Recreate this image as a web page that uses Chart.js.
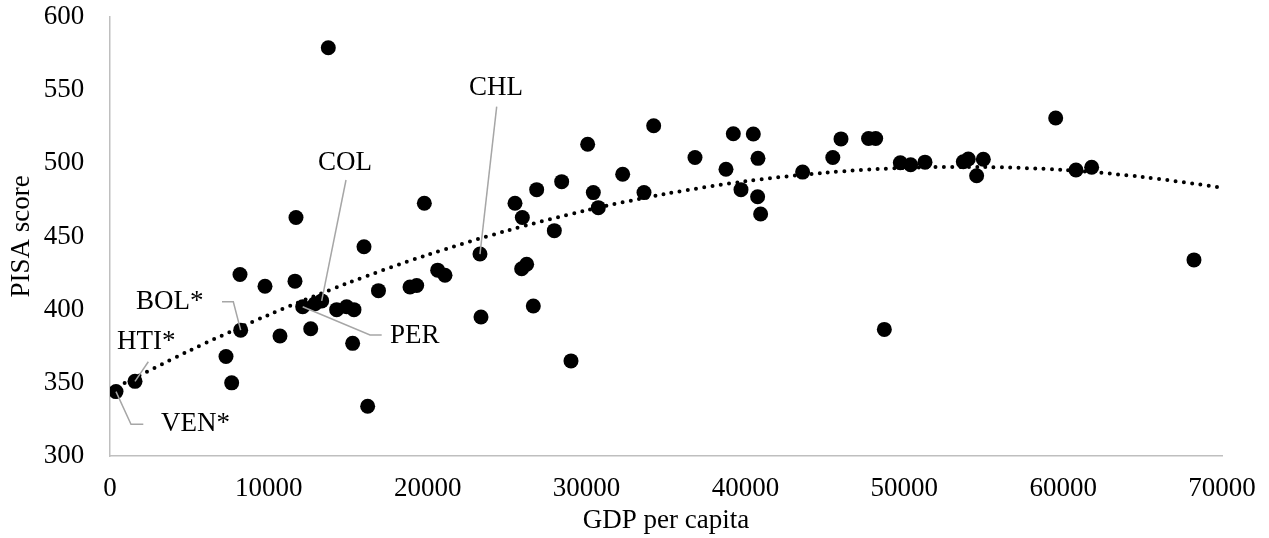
<!DOCTYPE html>
<html><head><meta charset="utf-8">
<script src="https://cdn.jsdelivr.net/npm/chart.js@4/dist/chart.umd.min.js"></script>
<style>html,body{margin:0;padding:0;background:#fff;}#wrap{width:1269px;height:538px;position:relative;}</style>
</head><body><div id="wrap"><canvas id="c"></canvas></div>
<script>
// GDP per capita (x) and PISA score (y)
const gdp = [378, 1574, 7302, 7659, 8183, 8226, 9757, 10700, 11645, 11708,
  12130, 12635, 12905, 13325, 13742, 14268, 14897, 15359, 15275, 15989,
  16220, 16900, 18885, 19306, 19787, 20628, 21088, 23290, 23354, 25494,
  25956, 25914, 26229, 26647, 26859, 27970, 28433, 29019, 30069, 30425,
  30740, 32273, 33615, 34224, 36825, 38776, 39237, 39721, 40496, 40790,
  40768, 40957, 43600, 45500, 46016, 47750, 48200, 48744, 49750, 50400,
  51303, 53716, 54031, 54975, 54555, 59531, 60808, 61795, 68236];
const pisa = [344, 351, 368, 350, 424, 386, 416, 382, 419.5, 463,
  402, 387, 404, 406, 579, 400, 402, 400, 377, 443,
  334, 413, 415.5, 416.5, 472.7, 427, 423.5, 438, 395, 472.7,
  463, 428, 431, 402.5, 482, 454, 487.5, 365, 513, 480,
  469.7, 492.5, 480, 525.7, 504, 496, 520.2, 482, 520, 503.4,
  477.2, 465.4, 494, 504, 516.7, 517, 517, 386.5, 500.4, 499,
  500.8, 501.1, 503, 502.8, 491.5, 531, 495.4, 497.3, 434];
// polynomial trendline, values
const trendX = [0, 5000, 10000, 15000, 20000, 25000, 30000, 35000, 40000, 45000, 50000, 55000, 60000, 65000, 70000];
const trendY = [344.8, 372, 396.5, 418.3, 437.5, 454, 467.9, 479.2, 487.7, 493.6, 496.9, 497.5, 495.5, 490.7, 483.4];
const xTicks = [0, 10000, 20000, 30000, 40000, 50000, 60000, 70000];
const yTicks = [300, 350, 400, 450, 500, 550, 600];
const labelTexts = ['VEN*', 'HTI*', 'BOL*', 'PER', 'COL', 'CHL'];
const labelPoints = [0, 1, 5, 10, 13, 27];

// label placement (data coordinates) and leader-line routes
const labelPlacement = [
  {tx: 3210, ty: 321.7, path: [[1322, 321.7], [2096, 321.7]]},
  {tx: 441, ty: 378.1, path: [[2411, 364.4]]},
  {tx: 1637, ty: 405.4, path: [[7762, 405.4], [7050, 405.4]]},
  {tx: 17626, ty: 382.2, path: [[16367, 382.7], [17103, 382.7]]},
  {tx: 13093, ty: 500, path: [[14856, 488.6]]},
  {tx: 22598, ty: 551.3, path: [[24342, 538.7]]}
];

Chart.defaults.font.family = '"Liberation Serif", "Times New Roman", serif';
Chart.defaults.color = '#000';

const leaderPlugin = {
  id: 'leaders',
  afterDatasetsDraw(chart) {
    const {ctx, scales: {x, y}} = chart;
    ctx.save();
    labelTexts.forEach((txt, n) => {
      const i = labelPoints[n], pl = labelPlacement[n];
      ctx.beginPath();
      ctx.strokeStyle = '#a6a6a6';
      ctx.lineWidth = 1.5;
      ctx.moveTo(x.getPixelForValue(gdp[i]), y.getPixelForValue(pisa[i]));
      pl.path.forEach(([vx, vy]) => ctx.lineTo(x.getPixelForValue(vx), y.getPixelForValue(vy)));
      ctx.stroke();
      ctx.fillStyle = '#000';
      ctx.font = '27px "Liberation Serif"';
      ctx.textBaseline = 'middle';
      ctx.textAlign = 'left';
      ctx.fillText(txt, x.getPixelForValue(pl.tx), y.getPixelForValue(pl.ty));
    });
    ctx.restore();
  }
};

new Chart(document.getElementById('c'), {
  type: 'scatter',
  data: {
    datasets: [
      {
        label: 'PISA score',
        data: gdp.map((g, i) => ({x: g, y: pisa[i]})),
        pointRadius: 7.5,
        pointBackgroundColor: '#000',
        pointBorderWidth: 0,
        order: 1
      },
      {
        type: 'line',
        label: 'Trend',
        data: trendX.map((g, i) => ({x: g, y: trendY[i]})),
        pointRadius: 0,
        borderColor: '#000',
        borderWidth: 4,
        borderDash: [0, 8.3],
        borderCapStyle: 'round',
        fill: false,
        tension: 0.3,
        order: 2
      }
    ]
  },
  options: {
    responsive: true,
    maintainAspectRatio: false,
    animation: false,
    layout: {padding: {top: 17, right: 47, left: 0, bottom: 0}},
    plugins: {legend: {display: false}, tooltip: {enabled: false}},
    scales: {
      x: {
        type: 'linear', min: 0, max: 70000,
        afterBuildTicks: a => { a.ticks = xTicks.map(v => ({value: v})); },
        afterFit: s => { s.height = 82; s.paddingLeft = 0; s.paddingRight = 0; },
        ticks: {font: {size: 27}, color: '#000', padding: 17, maxRotation: 0, autoSkip: false, callback: v => String(v)},
        grid: {display: false, drawTicks: false},
        border: {display: true, color: '#bfbfbf', width: 1.5},
        title: {display: true, text: 'GDP per capita', font: {size: 27}, color: '#000', padding: {top: 0, bottom: 1}}
      },
      y: {
        type: 'linear', min: 300, max: 600,
        afterBuildTicks: a => { a.ticks = yTicks.map(v => ({value: v})); },
        afterFit: s => { s.width = 110; s.paddingTop = 0; s.paddingBottom = 0; },
        ticks: {font: {size: 27}, color: '#000', padding: 25.7, autoSkip: false, callback: v => String(v)},
        grid: {display: false, drawTicks: false},
        border: {display: true, color: '#bfbfbf', width: 1.5},
        title: {display: true, text: 'PISA score', font: {size: 27}, color: '#000', padding: {top: 6, bottom: 0}}
      }
    }
  },
  plugins: [leaderPlugin]
});
</script>
</body></html>
